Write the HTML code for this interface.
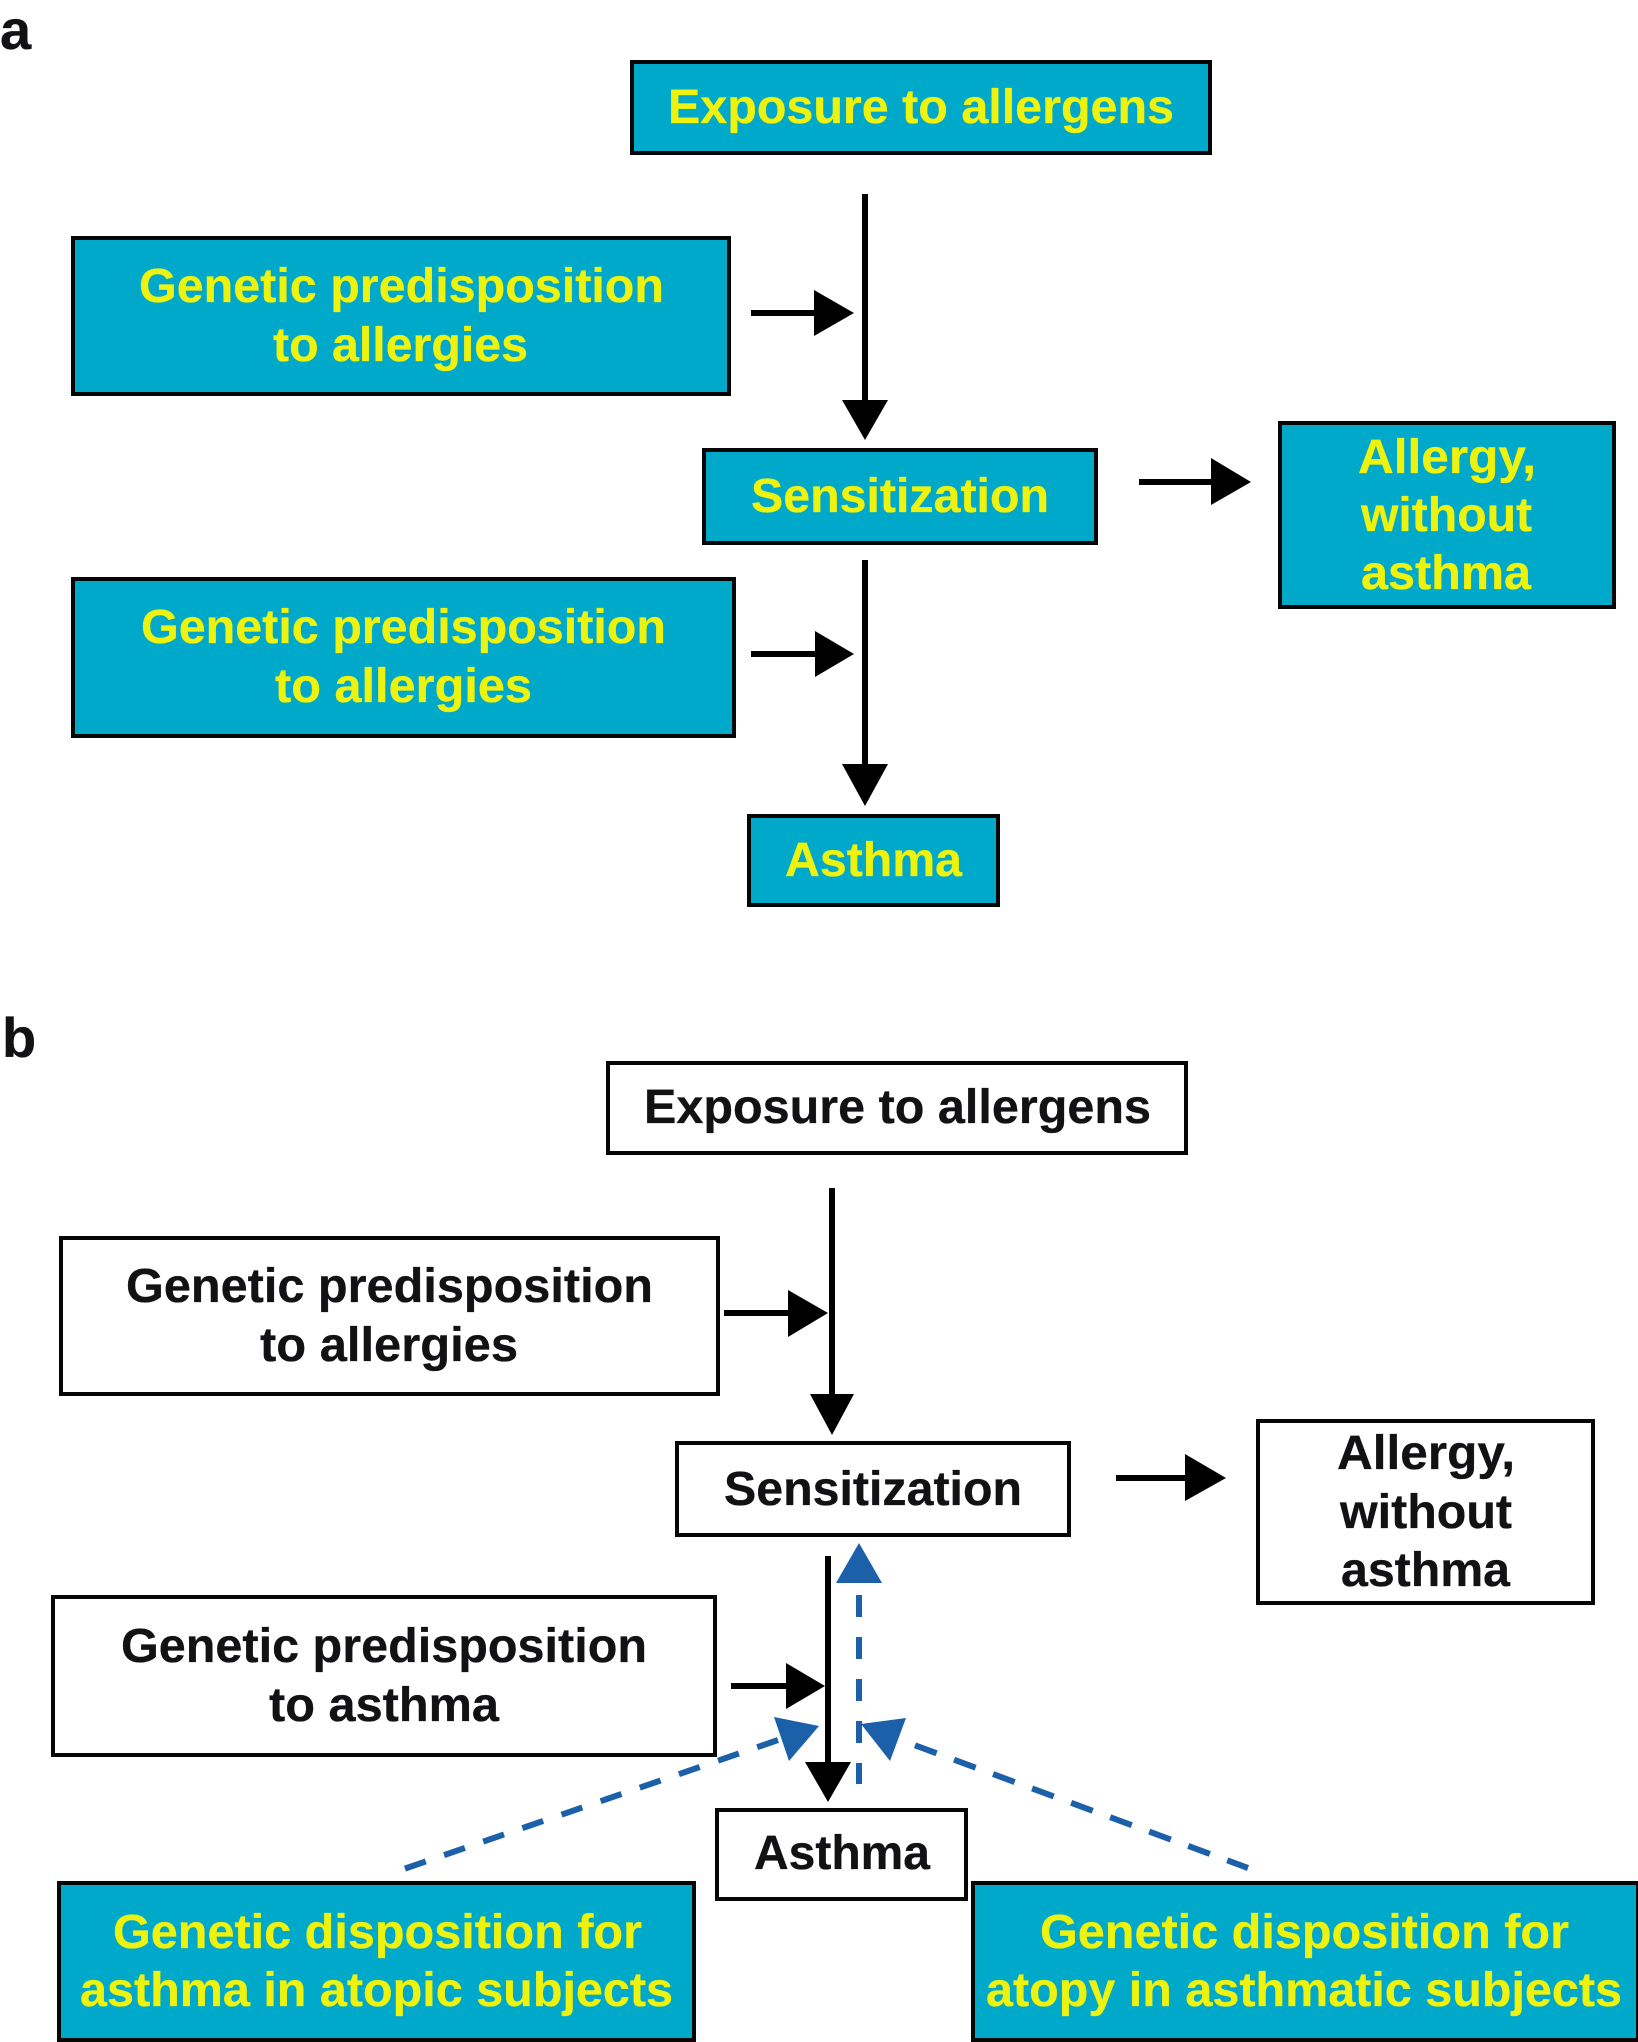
<!DOCTYPE html>
<html><head><meta charset="utf-8"><style>
html,body{margin:0;padding:0;background:#fff}
svg{display:block}
text{font-family:"Liberation Sans",Arial,sans-serif;font-weight:bold;font-size:48px}
.y{fill:#eef20f;stroke:#eef20f;stroke-width:.3}.k{fill:#121214;stroke:#121214;stroke-width:.3}
.t{fill:#00a9c9;stroke:#060606;stroke-width:4}
.w{fill:#fff;stroke:#060606;stroke-width:4}
.l{stroke:#000;stroke-width:6;fill:none}
.d{stroke:#1b60a8;stroke-width:6;fill:none;stroke-dasharray:22 20}
.h{fill:#1b60a8}
</style></head><body>
<svg xmlns="http://www.w3.org/2000/svg" width="1638" height="2042" viewBox="0 0 1638 2042">
<rect width="1638" height="2042" fill="#fff"/>
<text class="k" x="0" y="49" style="font-size:56px">a</text>
<text class="k" x="2" y="1057" style="font-size:56px">b</text>

<!-- Panel a -->
<rect class="t" x="632" y="62" width="578" height="91"/>
<rect class="t" x="73" y="238" width="656" height="156"/>
<rect class="t" x="704" y="450" width="392" height="93"/>
<rect class="t" x="1280" y="423" width="334" height="184"/>
<rect class="t" x="73" y="579" width="661" height="157"/>
<rect class="t" x="749" y="816" width="249" height="89"/>

<path class="l" d="M865 194V402M751 313H816M865 560V766M751 654H816M1139 482H1213"/>
<polygon points="842,400 888,400 865,440"/>
<polygon points="814,290 854,313 814,336"/>
<polygon points="842,764 888,764 865,806"/>
<polygon points="815,631 854,654 815,677"/>
<polygon points="1211,458 1251,482 1211,505"/>

<text class="y" x="668" y="123" textLength="506" lengthAdjust="spacingAndGlyphs">Exposure to allergens</text>
<text class="y" x="139" y="302" textLength="525" lengthAdjust="spacingAndGlyphs">Genetic predisposition</text>
<text class="y" x="273" y="361" textLength="255" lengthAdjust="spacingAndGlyphs">to allergies</text>
<text class="y" x="751" y="512" textLength="298" lengthAdjust="spacingAndGlyphs">Sensitization</text>
<text class="y" x="1358" y="473" textLength="178" lengthAdjust="spacingAndGlyphs">Allergy,</text>
<text class="y" x="1361" y="531" textLength="171" lengthAdjust="spacingAndGlyphs">without</text>
<text class="y" x="1361" y="589" textLength="170" lengthAdjust="spacingAndGlyphs">asthma</text>
<text class="y" x="141" y="643" textLength="525" lengthAdjust="spacingAndGlyphs">Genetic predisposition</text>
<text class="y" x="275" y="702" textLength="257" lengthAdjust="spacingAndGlyphs">to allergies</text>
<text class="y" x="785" y="876" textLength="177" lengthAdjust="spacingAndGlyphs">Asthma</text>

<!-- Panel b -->
<rect class="w" x="608" y="1063" width="578" height="90"/>
<rect class="w" x="61" y="1238" width="657" height="156"/>
<rect class="w" x="677" y="1443" width="392" height="92"/>
<rect class="w" x="1258" y="1421" width="335" height="182"/>
<rect class="w" x="53" y="1597" width="662" height="158"/>
<rect class="w" x="717" y="1810" width="249" height="89"/>
<rect class="t" x="59" y="1883" width="635" height="157"/>
<rect class="t" x="973" y="1883" width="665" height="157"/>

<path class="l" d="M832 1188V1396M724 1313H790M1116 1478H1187M828 1556V1764M731 1686H788"/>
<polygon points="810,1394 854,1394 832,1435"/>
<polygon points="788,1290 828,1313 788,1337"/>
<polygon points="1185,1454 1226,1478 1185,1501"/>
<polygon points="805,1762 851,1762 828,1802"/>
<polygon points="786,1663 825,1686 786,1709"/>

<path class="d" d="M859 1595V1784"/>
<polygon class="h" points="859,1543 882,1583 836,1583"/>
<path class="d" d="M778 1740L401 1870" style="stroke-dasharray:22 19.4"/>
<polygon class="h" points="774,1717 819,1726 789,1761"/>
<path class="d" d="M915 1745.3L1248 1868" style="stroke-dasharray:23 18.6"/>
<polygon class="h" points="906,1718 861,1724 890,1761"/>

<text class="k" x="644" y="1123" textLength="507" lengthAdjust="spacingAndGlyphs">Exposure to allergens</text>
<text class="k" x="126" y="1302" textLength="527" lengthAdjust="spacingAndGlyphs">Genetic predisposition</text>
<text class="k" x="260" y="1361" textLength="258" lengthAdjust="spacingAndGlyphs">to allergies</text>
<text class="k" x="724" y="1505" textLength="298" lengthAdjust="spacingAndGlyphs">Sensitization</text>
<text class="k" x="1337" y="1469" textLength="178" lengthAdjust="spacingAndGlyphs">Allergy,</text>
<text class="k" x="1340" y="1528" textLength="172" lengthAdjust="spacingAndGlyphs">without</text>
<text class="k" x="1341" y="1586" textLength="169" lengthAdjust="spacingAndGlyphs">asthma</text>
<text class="k" x="121" y="1662" textLength="526" lengthAdjust="spacingAndGlyphs">Genetic predisposition</text>
<text class="k" x="269" y="1721" textLength="230" lengthAdjust="spacingAndGlyphs">to asthma</text>
<text class="k" x="754" y="1869" textLength="176" lengthAdjust="spacingAndGlyphs">Asthma</text>
<text class="y" x="113" y="1948" textLength="529" lengthAdjust="spacingAndGlyphs">Genetic disposition for</text>
<text class="y" x="80" y="2006" textLength="593" lengthAdjust="spacingAndGlyphs">asthma in atopic subjects</text>
<text class="y" x="1040" y="1948" textLength="529" lengthAdjust="spacingAndGlyphs">Genetic disposition for</text>
<text class="y" x="986" y="2006" textLength="636" lengthAdjust="spacingAndGlyphs">atopy in asthmatic subjects</text>
</svg>
</body></html>
